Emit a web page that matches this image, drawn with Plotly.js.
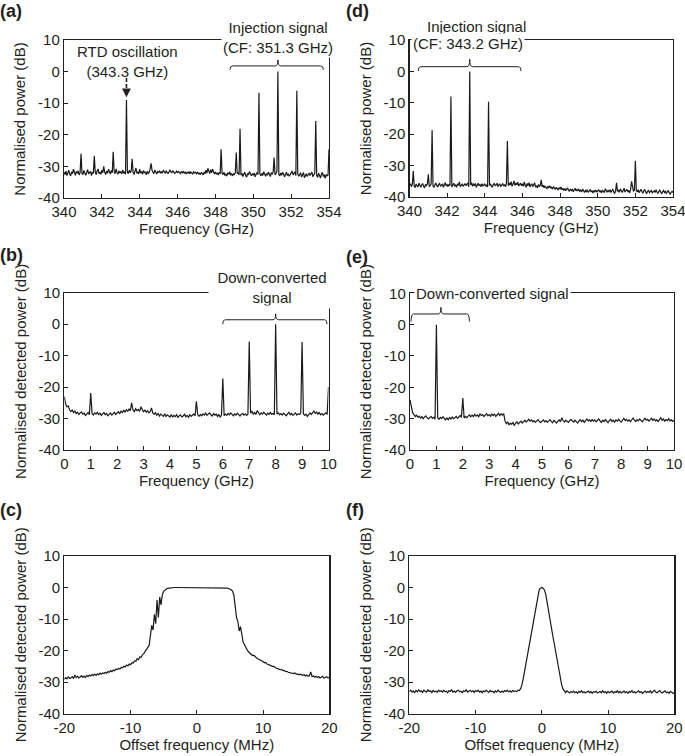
<!DOCTYPE html>
<html><head><meta charset="utf-8">
<script src="https://cdn.plot.ly/plotly-3.0.1.min.js"></script>
<style>html,body{margin:0;padding:0;background:#fff}#chart{width:685px;height:756px}</style>
</head><body><div id="chart"></div>
<script>
// ---------- DATA ----------
// (a) spectrum, 340–354 GHz, step 0.05 GHz
const aStart = 340, aStep = 0.05;
const aPower = [
-31.8,-32.6,-31.5,-32.9,-32.1,-31.2,-32.4,-33.0,-31.7,-32.3,-30.9,-32.0,-32.8,-31.6,-32.2,-31.4,-32.7,-31.9,-26.0,-32.3,
-32.5,-31.3,-32.1,-32.8,-31.9,-31.0,-32.4,-32.0,-31.6,-32.9,-31.8,-32.2,-26.7,-31.7,-32.6,-31.4,-30.8,-32.3,-31.9,-32.5,
-31.2,-32.0,-30.0,-31.8,-32.6,-31.5,-32.2,-30.9,-31.7,-32.4,-31.3,-32.0,-25.4,-31.6,-32.3,-30.8,-31.9,-32.5,-31.4,-32.1,
-31.6,-32.4,-31.1,-32.2,-31.8,-32.5,-9.0,-31.9,-32.3,-31.2,-32.0,-31.5,-27.6,-31.8,-32.6,-31.0,-30.5,-32.2,-31.7,-32.4,
-30.9,-32.1,-31.6,-32.5,-31.3,-32.0,-31.8,-32.7,-31.5,-32.2,-31.9,-30.8,-29.0,-31.2,-31.7,-32.3,-31.1,-31.8,-32.4,-31.6,
-31.9,-31.4,-32.2,-31.7,-32.0,-31.3,-31.8,-32.1,-31.5,-31.9,-32.3,-31.6,-31.2,-31.8,-32.0,-31.4,-31.7,-32.2,-31.9,-31.5,
-32.1,-31.6,-31.9,-32.3,-31.7,-32.0,-31.5,-32.2,-31.8,-32.4,-31.9,-32.1,-31.6,-32.3,-31.8,-32.0,-32.4,-31.7,-32.1,-31.9,
-32.3,-31.8,-32.5,-32.0,-32.6,-31.9,-32.2,-32.7,-31.8,-32.4,-31.2,-32.1,-30.6,-31.7,-32.3,-31.0,-32.0,-30.9,-31.9,-32.4,
-31.8,-32.5,-32.0,-32.7,-31.9,-32.4,-24.6,-32.1,-32.6,-31.8,-32.9,-32.3,-33.1,-32.0,-32.5,-31.7,-32.8,-32.2,-33.0,-32.4,
-32.6,-32.0,-25.6,-32.3,-31.9,-32.7,-18.1,-32.8,-32.1,-33.2,-32.5,-31.8,-32.9,-33.4,-32.2,-32.7,-31.6,-32.4,-33.0,-32.3,
-32.8,-32.1,-33.3,-32.5,-31.9,-32.6,-6.7,-32.4,-33.0,-32.2,-32.9,-31.7,-32.5,-33.1,-32.3,-32.8,-31.8,-32.6,-33.2,-32.0,
-32.4,-31.9,-27.2,-32.7,-32.2,-31.6,0.0,-32.5,-33.0,-32.1,-32.8,-31.9,-32.4,-33.3,-32.6,-31.8,-32.9,-32.3,-33.1,-32.5,
-32.0,-31.5,-32.7,-32.2,-31.7,-32.9,-6.1,-32.4,-33.1,-32.6,-32.0,-33.4,-32.5,-31.9,-33.6,-32.8,-32.3,-33.2,-32.7,-32.1,
-32.9,-32.4,-31.8,-33.3,-32.6,-32.1,-15.6,-32.8,-33.5,-32.2,-32.9,-33.7,-32.4,-31.9,-33.2,-32.6,-33.8,-32.5,-33.0,-32.7,
-24.6];

// (d) spectrum, 340–354 GHz, step 0.05 GHz
const dStart = 340, dStep = 0.05;
const dPower = [
-36.2,-35.8,-36.7,-36.0,-31.7,-36.5,-37.0,-35.9,-36.4,-36.8,-35.6,-36.3,-36.9,-36.1,-35.7,-36.6,-37.1,-36.0,-36.4,-35.8,
-32.8,-36.7,-36.2,-35.9,-18.7,-36.5,-36.9,-36.1,-35.5,-36.4,-36.8,-36.0,-35.7,-36.6,-36.3,-35.8,-36.9,-36.2,-35.4,-36.5,
-36.1,-36.7,-35.9,-36.4,-8.0,-36.8,-36.0,-35.6,-36.5,-36.2,-36.9,-35.8,-36.3,-35.2,-36.7,-36.1,-35.9,-36.6,-36.3,-35.7,
-36.4,-36.0,-35.5,-36.8,0.0,-36.2,-35.4,-36.6,-35.9,-36.3,-35.7,-36.9,-36.1,-35.6,-36.4,-36.0,-36.7,-35.8,-36.5,-36.2,
-35.9,-36.6,-36.1,-36.8,-9.7,-36.3,-35.8,-36.5,-36.9,-36.0,-35.7,-36.4,-36.2,-35.6,-36.7,-36.1,-35.9,-36.6,-36.3,-35.8,
-36.5,-36.0,-36.7,-35.8,-22.2,-36.4,-35.5,-36.2,-35.1,-36.6,-35.9,-34.9,-36.3,-35.7,-36.1,-35.3,-36.5,-36.0,-35.6,-36.4,
-35.8,-36.6,-35.2,-36.3,-36.9,-35.7,-36.4,-35.4,-36.8,-36.1,-35.9,-36.7,-36.2,-35.5,-36.9,-36.4,-37.1,-36.0,-36.6,-36.3,
-34.5,-36.8,-36.2,-37.1,-36.5,-36.9,-37.3,-36.6,-37.0,-36.4,-37.2,-36.8,-37.5,-36.7,-37.1,-37.6,-36.9,-37.3,-37.8,-37.0,
-37.4,-36.8,-37.7,-37.2,-37.9,-37.3,-38.0,-37.5,-37.1,-37.8,-38.2,-37.4,-37.9,-37.6,-38.3,-37.7,-37.2,-38.1,-37.5,-38.0,
-37.6,-38.2,-37.8,-38.4,-37.5,-38.0,-38.6,-37.9,-38.3,-37.7,-38.5,-38.1,-37.6,-38.4,-38.0,-38.7,-37.9,-38.3,-37.8,-38.5,
-38.1,-37.6,-38.4,-38.0,-38.7,-37.8,-38.2,-38.6,-37.4,-38.1,-38.5,-37.9,-38.3,-37.7,-38.6,-38.0,-37.5,-38.4,-38.8,-38.1,
-35.5,-38.2,-37.8,-38.5,-37.4,-38.0,-38.6,-37.9,-37.2,-38.4,-38.1,-37.6,-38.3,-37.9,-38.7,-37.5,-35.0,-37.3,-38.2,-37.8,
-28.5,-37.9,-38.4,-37.7,-38.6,-38.1,-37.5,-38.3,-38.8,-38.0,-37.6,-38.5,-38.9,-38.2,-37.8,-38.6,-38.3,-37.9,-38.7,-38.4,
-38.0,-38.6,-37.7,-38.4,-38.9,-38.2,-37.8,-38.5,-39.0,-38.3,-37.9,-38.6,-38.2,-38.8,-38.4,-37.9,-38.7,-39.1,-38.5,-38.2,
-38.6];

// (b) down-converted spectrum, 0–10 GHz, step 0.05 GHz
const bStart = 0, bStep = 0.05;
const bPower = [
-23.0,-25.4,-26.3,-26.0,-27.2,-27.8,-27.3,-28.1,-27.6,-28.4,-28.0,-28.7,-28.2,-27.9,-28.6,-28.3,-29.0,-28.5,-28.1,-28.8,
-21.9,-28.4,-28.9,-28.2,-28.6,-28.0,-28.7,-28.3,-29.0,-28.5,-28.1,-28.8,-28.4,-29.1,-28.6,-28.2,-28.9,-28.5,-28.0,-28.7,
-28.3,-27.8,-28.5,-27.6,-28.1,-27.4,-27.9,-27.2,-27.7,-27.0,-27.5,-25.0,-27.3,-27.8,-26.9,-27.5,-27.1,-27.7,-26.3,-27.4,
-27.9,-27.2,-28.0,-27.5,-28.2,-27.8,-26.6,-28.3,-28.7,-28.1,-28.9,-28.4,-29.2,-28.6,-28.9,-29.3,-28.5,-29.4,-28.8,-29.1,
-29.5,-28.7,-29.6,-29.0,-29.4,-28.8,-29.7,-29.1,-28.9,-29.5,-29.2,-28.6,-29.4,-29.0,-29.6,-28.8,-29.3,-28.9,-28.6,-29.2,
-24.5,-28.8,-29.3,-28.7,-29.1,-28.5,-28.9,-28.3,-29.0,-28.6,-28.2,-28.8,-29.2,-28.4,-28.9,-28.6,-29.3,-28.7,-29.6,-28.9,
-17.3,-29.1,-28.6,-29.0,-28.4,-28.8,-28.2,-28.7,-29.1,-28.5,-28.9,-28.3,-28.7,-29.2,-28.6,-28.4,-28.9,-28.5,-29.0,-28.6,
-5.5,-28.3,-27.6,-28.6,-28.1,-28.7,-27.5,-28.4,-28.8,-28.2,-28.6,-28.0,-28.5,-28.9,-28.3,-28.7,-28.1,-28.6,-28.4,-28.8,
0.0,-28.6,-28.2,-28.8,-28.4,-28.9,-28.3,-28.7,-29.1,-28.5,-28.0,-28.8,-28.4,-29.0,-28.6,-28.2,-28.9,-28.5,-28.7,-28.3,
-5.7,-28.5,-29.0,-28.6,-29.3,-28.8,-28.2,-28.7,-28.1,-27.6,-28.4,-27.9,-28.6,-28.1,-28.8,-28.4,-28.9,-28.5,-28.2,-28.7,
-20.0];

// (e) down-converted spectrum, 0–10 GHz, step 0.05 GHz
const eStart = 0, eStep = 0.05;
const ePower = [
-24.0,-26.6,-28.1,-28.7,-29.3,-28.9,-29.6,-29.2,-29.8,-29.4,-30.0,-29.5,-29.1,-29.7,-30.1,-29.6,-29.3,-29.9,-29.5,-30.2,
0.0,-29.7,-30.2,-29.6,-30.0,-29.4,-29.9,-30.4,-29.8,-30.3,-29.6,-30.1,-29.5,-30.0,-29.7,-29.3,-29.9,-29.4,-29.0,-29.6,
-23.4,-29.8,-29.3,-29.7,-29.1,-28.8,-29.4,-28.9,-29.3,-28.6,-29.2,-28.8,-29.4,-28.5,-29.0,-28.7,-29.3,-28.9,-28.4,-29.1,
-28.7,-29.2,-28.5,-29.0,-28.6,-29.3,-28.8,-28.3,-29.0,-28.5,-28.9,-28.4,-30.8,-31.6,-31.0,-32.0,-31.4,-31.8,-31.2,-32.1,
-31.5,-31.0,-31.7,-31.2,-30.8,-31.4,-30.9,-30.5,-31.1,-30.6,-30.2,-30.8,-30.4,-31.0,-30.6,-31.2,-30.7,-30.3,-30.9,-31.3,
-30.8,-30.4,-31.0,-30.6,-31.2,-30.7,-30.3,-30.9,-31.3,-30.5,-30.9,-31.4,-30.8,-30.4,-31.0,-29.7,-30.6,-31.1,-30.5,-30.9,
-31.2,-30.6,-30.2,-30.8,-31.1,-30.5,-30.9,-31.4,-30.7,-30.3,-30.9,-30.5,-31.2,-30.6,-30.1,-30.7,-30.4,-30.9,-30.3,-30.8,
-30.4,-31.0,-30.6,-30.1,-30.7,-31.2,-30.5,-30.9,-30.3,-30.8,-31.3,-30.6,-30.2,-30.9,-30.5,-31.1,-30.4,-30.8,-30.2,-30.7,
-31.1,-30.5,-29.9,-30.6,-30.2,-30.8,-30.4,-31.0,-30.3,-29.8,-30.5,-30.9,-30.3,-30.7,-30.1,-30.6,-31.0,-30.4,-29.9,-30.5,
-30.2,-30.8,-30.3,-29.9,-30.6,-30.1,-30.7,-30.4,-30.9,-30.2,-29.7,-30.5,-30.1,-30.8,-30.3,-30.6,-30.0,-30.7,-30.4,-30.9,
-30.5];

// (c) detected power vs offset frequency, -20–20 MHz, step 0.2 MHz
const cStart = -20, cStep = 0.2;
const cPower = [
-29.2,-28.6,-29.0,-28.4,-28.8,-28.7,-28.3,-28.9,-27.8,-28.6,
-28.2,-28.7,-28.4,-28.0,-28.5,-28.1,-28.6,-27.9,-28.3,-27.8,
-28.1,-27.6,-28.0,-27.5,-27.9,-27.4,-27.7,-27.2,-27.5,-27.1,
-27.3,-26.9,-27.2,-26.7,-26.9,-26.4,-26.7,-26.2,-26.4,-25.9,
-26.0,-25.7,-25.9,-25.3,-25.5,-25.0,-25.2,-24.6,-24.9,-24.3,
-24.5,-23.9,-24.0,-23.3,-23.4,-22.6,-22.9,-22.0,-22.2,-21.3,
-21.0,-20.2,-19.6,-19.0,-18.4,-15.5,-12.0,-13.5,-8.5,-11.5,
-4.0,-9.5,-3.0,-5.5,-2.2,-1.2,-0.7,-0.5,-0.3,-0.2,
-0.1,-0.1,-0.1,0,0,0,0,0,0,0,
0,0,0,0,0,0,0,0,0,0,
0,0,0,0,0,0,0,0,0,0,
0,0,0,0,0,0,0,0,-0.1,-0.1,
-0.1,-0.1,-0.2,-0.2,-0.3,-0.4,-0.7,-1.2,-2.5,-6.0,
-9.6,-10.8,-13.8,-12.4,-15.6,-17.4,-18.2,-19.3,-19.8,-20.4,
-20.9,-21.1,-21.6,-21.5,-22.1,-22.3,-22.6,-22.8,-23.0,-23.3,
-23.5,-23.9,-23.8,-24.3,-24.4,-24.7,-24.8,-25.1,-25.0,-25.4,
-25.5,-25.7,-25.9,-26.1,-26.0,-26.4,-26.3,-26.7,-26.6,-26.9,
-27.0,-26.9,-27.2,-27.3,-27.1,-27.5,-27.4,-27.7,-27.5,-27.8,
-27.9,-27.7,-28.1,-27.8,-28.2,-28.0,-26.8,-28.3,-28.1,-28.5,
-28.2,-28.6,-28.3,-28.7,-28.4,-28.2,-28.8,-28.5,-28.3,-28.7,
-28.6];

// (f) detected power vs offset frequency, -20–20 MHz, step 0.2 MHz
const fStart = -20, fStep = 0.2;
const fPower = [
-33.0,-32.6,-33.2,-32.8,-33.4,-32.7,-33.1,-32.5,-33.0,-32.8,
-33.3,-32.6,-32.9,-33.2,-32.5,-33.0,-32.8,-33.4,-32.7,-33.1,
-32.9,-33.3,-32.6,-33.0,-32.8,-33.2,-32.6,-33.1,-32.9,-33.4,
-32.7,-33.0,-32.5,-33.2,-32.9,-33.3,-32.8,-32.6,-33.1,-32.9,
-33.4,-32.8,-33.0,-32.5,-33.2,-32.9,-32.6,-33.1,-32.8,-33.3,
-32.7,-33.0,-32.6,-33.2,-32.9,-33.4,-32.8,-33.1,-32.6,-33.0,
-33.3,-32.7,-33.1,-32.9,-33.4,-32.8,-33.2,-32.6,-33.0,-33.3,
-32.9,-33.2,-32.7,-33.0,-32.6,-33.1,-32.8,-33.2,-32.7,-33.0,
-32.8,-33.1,-32.6,-32.7,-32.1,-30.9,-28.9,-26.5,-24.0,-21.7,
-19.4,-17.0,-14.6,-12.1,-9.6,-7.0,-4.4,-2.2,-0.8,-0.2,
0.0,
-0.2,-0.8,-2.2,-4.4,-7.0,-9.6,-12.1,-14.6,-17.0,-19.4,
-21.7,-24.0,-26.5,-28.9,-30.9,-32.2,-32.8,-33.4,-32.8,-33.2,
-33.5,-33.0,-33.3,-32.9,-33.4,-33.1,-33.6,-33.0,-33.3,-32.8,
-33.4,-33.1,-33.5,-33.2,-32.9,-33.4,-33.0,-33.6,-33.1,-33.3,
-32.9,-33.5,-33.2,-33.0,-33.4,-32.8,-33.3,-33.1,-33.6,-33.0,
-33.4,-33.2,-32.9,-33.5,-33.1,-33.3,-32.8,-33.4,-33.0,-33.5,
-33.2,-32.9,-33.4,-33.1,-33.6,-33.0,-33.3,-32.7,-33.4,-33.1,
-33.5,-33.0,-32.8,-33.3,-33.1,-33.6,-33.2,-32.9,-33.4,-33.0,
-33.3,-32.8,-33.5,-33.1,-32.6,-33.2,-33.4,-33.0,-32.7,-33.3,
-33.5,-33.1,-32.8,-33.4,-33.2,-33.6,-33.0,-33.3,-33.5,-33.7];

// tick labels
const yTickVals = [10, 0, -10, -20, -30, -40];
const yTickText = ['10', '0', '-10', '-20', '-30', '-40'];
const rfTickVals = [340, 342, 344, 346, 348, 350, 352, 354];
const rfTickText = ['340', '342', '344', '346', '348', '350', '352', '354'];
const ifTickVals = [0, 1, 2, 3, 4, 5, 6, 7, 8, 9, 10];
const ifTickText = ['0', '1', '2', '3', '4', '5', '6', '7', '8', '9', '10'];
const offTickVals = [-20, -10, 0, 10, 20];
const offTickText = ['-20', '-10', '0', '10', '20'];

// ---------- LAYOUT ----------
const W = 685, H = 756;
const fx = px => px / W, fy = py => 1 - py / H;
const INK = '#231f20';
const FONT = '"Liberation Sans", Arial, Helvetica, sans-serif';
const FS = 15;

function xAxis(x0, x1, range, tv, tt, title, anchor) {
  return {
    domain: [fx(x0), fx(x1)], range, anchor,
    tickmode: 'array', tickvals: tv, ticktext: tt, ticklabeloverflow: 'allow',
    ticks: 'inside', ticklen: 4, tickwidth: 1, tickcolor: INK,
    showline: true, mirror: true, linecolor: INK, linewidth: 1.2,
    showgrid: false, zeroline: false, fixedrange: true,
    tickfont: {family: FONT, size: FS, color: INK},
    title: {text: title, font: {family: FONT, size: FS, color: INK}, standoff: 2}
  };
}
function yAxis(y0, y1, title, anchor) {
  return {
    domain: [fy(y1), fy(y0)], range: [-40, 10], anchor,
    tickmode: 'array', tickvals: yTickVals, ticktext: yTickText,
    ticks: 'inside', ticklen: 4, tickwidth: 1, tickcolor: INK,
    showline: true, mirror: true, linecolor: INK, linewidth: 1.2,
    showgrid: false, zeroline: false, fixedrange: true,
    tickfont: {family: FONT, size: FS, color: INK},
    title: {text: title, font: {family: FONT, size: FS, color: INK}, standoff: 8}
  };
}

const line = {color: '#1a1a1a', width: 1.2};
const traces = [
  {x0: aStart, dx: aStep, y: aPower, xaxis: 'x', yaxis: 'y'},
  {x0: bStart, dx: bStep, y: bPower, xaxis: 'x2', yaxis: 'y2'},
  {x0: cStart, dx: cStep, y: cPower, xaxis: 'x3', yaxis: 'y3'},
  {x0: dStart, dx: dStep, y: dPower, xaxis: 'x4', yaxis: 'y4'},
  {x0: eStart, dx: eStep, y: ePower, xaxis: 'x5', yaxis: 'y5'},
  {x0: fStart, dx: fStep, y: fPower, xaxis: 'x6', yaxis: 'y6'}
].map(t => Object.assign({type: 'scatter', mode: 'lines', line, hoverinfo: 'skip', showlegend: false}, t));

function bracket(xr, yr, x0, x1, xc, yh, yend, ytop, r) {
  const p = `M${x0},${yend} Q${x0},${yh} ${x0 + r},${yh} L${xc - r},${yh} Q${xc},${yh} ${xc},${ytop} ` +
            `Q${xc},${yh} ${xc + r},${yh} L${x1 - r},${yh} Q${x1},${yh} ${x1},${yend}`;
  return {type: 'path', xref: xr, yref: yr, path: p, line: {color: INK, width: 1}, layer: 'above'};
}

const shapes = [
  bracket('x', 'y', 348.77, 353.70, 351.3, 1.8, 0.6, 3.7, 0.14),
  bracket('x2', 'y2', 6.0, 9.94, 8.0, 1.4, 0.0, 3.3, 0.1),
  bracket('x4', 'y4', 340.47, 345.92, 343.2, 1.5, 0.1, 3.9, 0.14),
  bracket('x5', 'y5', 0.04, 2.25, 1.17, 3.4, 1.0, 5.5, 0.1),
  {type: 'line', xref: 'x', yref: 'y', x0: 343.3, x1: 343.3, y0: -2.0, y1: -5.8,
   line: {color: INK, width: 1.6, dash: '4px,2px'}}
];

const tf = {family: FONT, size: FS, color: INK};
const ann = (px, py, text, extra) => Object.assign({xref: 'paper', yref: 'paper', x: fx(px), y: fy(py),
  text, showarrow: false, font: tf, xanchor: 'center', yanchor: 'middle'}, extra || {});
const panel = (px, py, t) => ann(px, py, '<b>' + t + '</b>',
  {xanchor: 'left', yanchor: 'top', borderpad: 0, font: {family: FONT, size: 18, color: INK}});

const annotations = [
  panel(-1, 0, '(a)'), panel(-1, 244, '(b)'), panel(-1, 499, '(c)'),
  panel(345, 0, '(d)'), panel(345, 246, '(e)'), panel(345, 499, '(f)'),
  ann(127.5, 61, 'RTD oscillation<br>(343.3 GHz)'),
  {xref: 'x', yref: 'y', x: 343.3, y: -8.1, ax: 0, ay: -9, text: '', showarrow: true,
   arrowhead: 2, arrowsize: 1.1, arrowwidth: 1.6, arrowcolor: INK, standoff: 0},
  ann(278, 37, 'Injection signal<br>(CF: 351.3 GHz)', {bgcolor: '#ffffff', borderpad: 1}),
  ann(272, 287, 'Down-converted<br>signal', {bgcolor: '#ffffff', borderpad: 2, width: 122}),
  ann(476, 26, 'Injection signal'),
  ann(468.3, 44, '(CF: 343.2 GHz)', {bgcolor: '#ffffff', borderpad: 1}),
  ann(492.7, 293, 'Down-converted signal', {bgcolor: '#ffffff', borderpad: 1})
];

const layout = {
  width: W, height: H, margin: {l: 0, r: 0, t: 0, b: 0},
  paper_bgcolor: '#ffffff', plot_bgcolor: '#ffffff', showlegend: false,
  font: {family: FONT, size: FS, color: INK},
  xaxis:  xAxis(64, 329, [340, 354], rfTickVals, rfTickText, 'Frequency (GHz)', 'y'),
  yaxis:  yAxis(40, 198, 'Normalised power (dB)', 'x'),
  xaxis2: xAxis(64.3, 328.5, [0, 10], ifTickVals, ifTickText, 'Frequency (GHz)', 'y2'),
  yaxis2: yAxis(292.7, 450, 'Normalised detected power (dB)', 'x2'),
  xaxis3: xAxis(64.3, 329.3, [-20, 20], offTickVals, offTickText, 'Offset frequency (MHz)', 'y3'),
  yaxis3: yAxis(556, 713.5, 'Normalised detected power (dB)', 'x3'),
  xaxis4: xAxis(409.5, 673, [340, 354], rfTickVals, rfTickText, 'Frequency (GHz)', 'y4'),
  yaxis4: yAxis(40, 197, 'Normalised power (dB)', 'x4'),
  xaxis5: xAxis(410, 674, [0, 10], ifTickVals, ifTickText, 'Frequency (GHz)', 'y5'),
  yaxis5: yAxis(293.3, 450, 'Normalised detected power (dB)', 'x5'),
  xaxis6: xAxis(409.3, 674.3, [-20, 20], offTickVals, offTickText, 'Offset frequency (MHz)', 'y6'),
  yaxis6: yAxis(556, 713.5, 'Normalised detected power (dB)', 'x6'),
  shapes, annotations
};

Plotly.newPlot('chart', traces, layout, {staticPlot: true, displayModeBar: false});
</script></body></html>
